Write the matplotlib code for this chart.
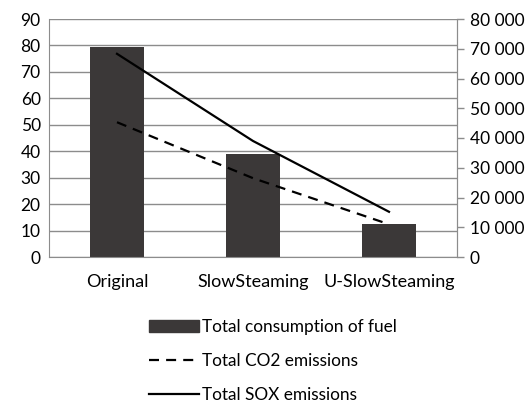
import matplotlib.pyplot as plt
from matplotlib.ticker import FuncFormatter
from matplotlib.patches import Patch
from matplotlib.lines import Line2D

# Data
categories = ["Original", "SlowSteaming", "U-SlowSteaming"]
fuel = [79.5, 38.8, 12.6]                 # left axis
co2 = [45300, 26500, 11000]               # right axis
sox = [68300, 39000, 15200]               # right axis

plt.rcParams['font.family'] = ['Lato', 'DejaVu Sans']

grid_col = "#8c8c8c"
bar_col = "#3b3838"
dash = (0, (4.5, 3.2))

fig = plt.figure(figsize=(5.28, 4.03), dpi=100)
ax = fig.add_axes([49 / 528, 1 - 257 / 403, 408 / 528, 238 / 403])

x = list(range(len(categories)))
ax.bar(x, fuel, width=0.39, color=bar_col, zorder=2)
ax.set_xlim(-0.5, 2.5)
ax.set_ylim(0, 90)
ax.set_yticks(range(0, 91, 10))
ax.grid(axis="y", color=grid_col, linewidth=1, zorder=0)
ax.set_axisbelow(True)
ax.set_xticks(x)
ax.set_xticklabels(categories)
ax.tick_params(axis="x", length=0, pad=12, labelsize=13)
ax.tick_params(axis="y", length=0, pad=6, labelsize=12.5)
for side in ["left", "bottom", "right"]:
    ax.spines[side].set_color(grid_col)
ax.spines["top"].set_visible(False)

ax2 = ax.twinx()
ax2.plot(x, co2, color="black", linestyle=dash, linewidth=1.6)
ax2.plot(x, sox, color="black", linewidth=1.6)
ax2.set_ylim(0, 80000)
ax2.set_yticks(range(0, 80001, 10000))
ax2.yaxis.set_major_formatter(FuncFormatter(lambda v, p: f"{int(v):,}".replace(",", " ")))
ax2.tick_params(axis="y", length=5, width=1, color=grid_col, pad=4, labelsize=12.5)
for side in ["left", "bottom", "top"]:
    ax2.spines[side].set_visible(False)
ax2.spines["right"].set_color(grid_col)

handles = [
    Patch(facecolor=bar_col, edgecolor=bar_col),
    Line2D([], [], color="black", linestyle=dash, linewidth=1.6),
    Line2D([], [], color="black", linewidth=1.6),
]
labels = ["Total consumption of fuel", "Total CO2 emissions", "Total SOX emissions"]
fig.legend(handles, labels, loc="upper left", bbox_to_anchor=(140 / 528, 1 - 310 / 403),
           frameon=False, fontsize=12.4, handlelength=2.9, handletextpad=0.2,
           labelspacing=1.05, borderpad=0)

fig.savefig("out.png", dpi=100)
